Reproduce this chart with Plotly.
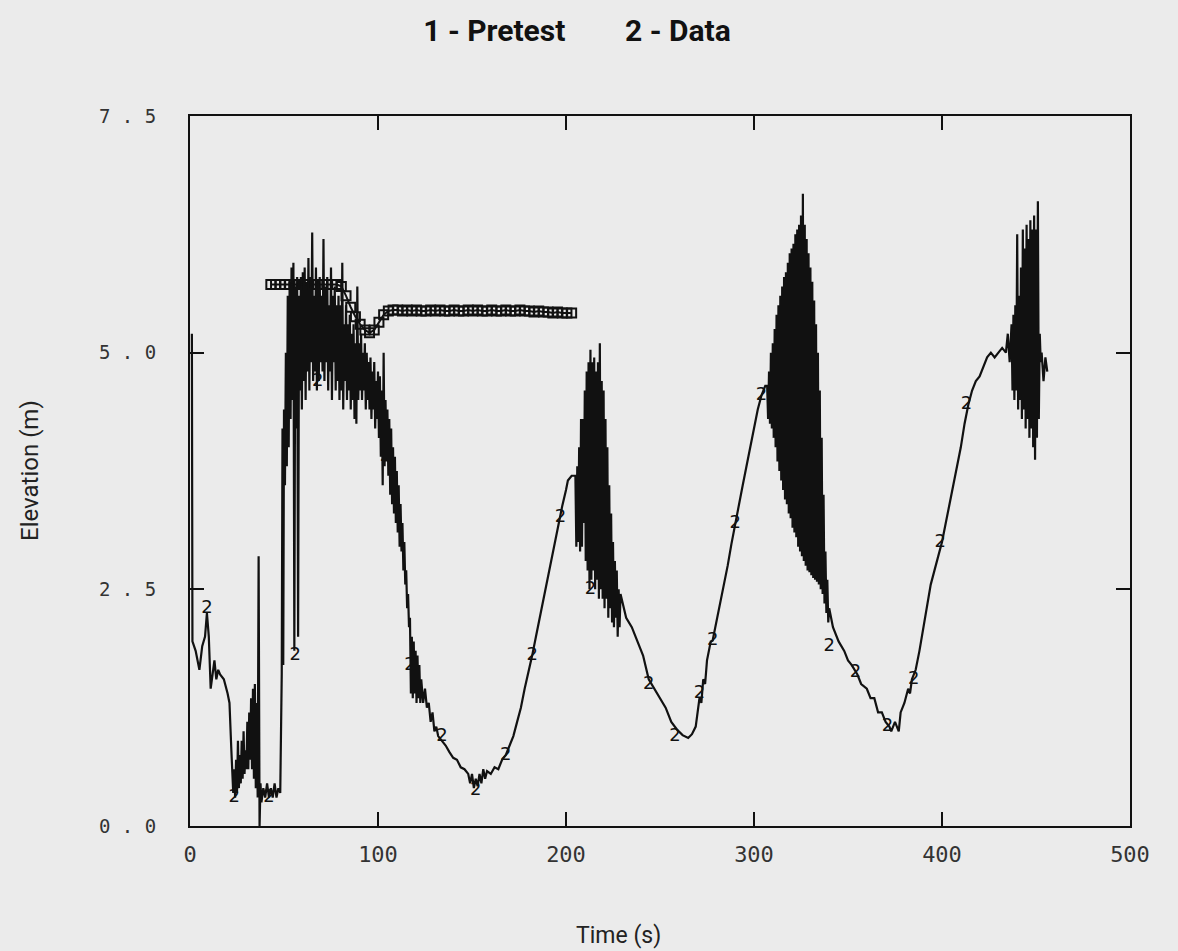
import plotly.graph_objects as go

# ---------------- data ----------------
# Series 2 - Data : time (s)
data_t = [
    1.0, 1.3, 3, 5, 6.5, 8, 9, 10, 11, 12, 13, 14, 15, 16, 18, 20, 21, 22, 23,
    23.5, 24, 24.5, 25, 25.5, 26, 26.5, 27, 27.5, 28, 28.5, 29, 29.5, 30, 30.5,
    31, 31.5, 32, 32.5, 33, 33.5, 34, 34.5, 35, 35.5, 36, 36.5, 37, 37.5, 38,
    39, 40, 41, 42, 43, 44, 45, 46, 47, 48, 48.8, 49.2, 49.6, 50, 50.5, 51,
    51.5, 52, 52.5, 53, 53.5, 54, 54.5, 55, 55.5, 56, 56.5, 57, 57.5, 58, 58.5,
    59, 59.5, 60, 60.5, 61, 61.5, 62, 62.5, 63, 63.5, 64, 64.5, 65, 65.5, 66,
    66.5, 67, 67.5, 68, 68.5, 69, 69.5, 70, 70.5, 71, 71.5, 72, 72.5, 73, 73.5,
    74, 74.5, 75, 75.5, 76, 76.5, 77, 77.5, 78, 78.5, 79, 79.5, 80, 80.5, 81,
    81.5, 82, 82.5, 83, 83.5, 84, 84.5, 85, 85.5, 86, 86.5, 87, 87.5, 88, 88.5,
    89, 89.5, 90, 90.5, 91, 91.5, 92, 92.5, 93, 93.5, 94, 94.5, 95, 95.5, 96,
    96.5, 97, 97.5, 98, 98.5, 99, 99.5, 100, 100.5, 101, 101.5, 102, 102.5, 103,
    103.5, 104, 104.5, 105, 105.5, 106, 106.5, 107, 107.5, 108, 108.5, 109,
    109.5, 110, 110.5, 111, 111.5, 112, 112.5, 113, 113.5, 114, 114.5, 115,
    115.5, 116, 116.5, 117, 117.5, 118, 118.5, 119, 119.5, 120, 120.5, 121,
    121.5, 122, 122.5, 123, 124, 125, 126, 127, 128, 129, 130, 131, 132, 134,
    136, 138, 140, 142, 144, 146, 148, 149, 150, 151, 152, 153, 154, 155, 156,
    157, 158, 160, 162, 164, 166, 168, 170, 172, 174, 176, 178, 180, 182, 184,
    186, 188, 190, 192, 194, 196, 198, 200, 201, 203, 205, 205.5, 206, 206.5,
    207, 207.5, 208, 208.5, 209, 209.5, 210, 210.5, 211, 211.5, 212, 212.5, 213,
    213.5, 214, 214.5, 215, 215.5, 216, 216.5, 217, 217.5, 218, 218.5, 219,
    219.5, 220, 220.5, 221, 221.5, 222, 222.5, 223, 223.5, 224, 224.5, 225,
    225.5, 226, 226.5, 227, 227.5, 228, 228.5, 229, 232, 235, 238, 241, 244,
    247, 250, 253, 256, 259, 262, 265, 267, 269, 271, 272, 273, 274, 275, 276,
    277, 278, 280, 282, 284, 286, 288, 290, 292, 294, 296, 298, 300, 302, 304,
    306, 307, 307.5, 308, 308.5, 309, 309.5, 310, 310.5, 311, 311.5, 312, 312.5,
    313, 313.5, 314, 314.5, 315, 315.5, 316, 316.5, 317, 317.5, 318, 318.5, 319,
    319.5, 320, 320.5, 321, 321.5, 322, 322.5, 323, 323.5, 324, 324.5, 325,
    325.5, 326, 326.5, 327, 327.5, 328, 328.5, 329, 329.5, 330, 330.5, 331,
    331.5, 332, 332.5, 333, 333.5, 334, 334.5, 335, 335.5, 336, 336.5, 337,
    337.5, 338, 338.5, 339, 339.5, 340, 342, 345, 348, 350, 352, 355, 357, 360,
    362, 364, 366, 368, 370, 372, 373, 375, 377, 378, 380, 382, 383, 384, 386,
    388, 390, 392, 394, 396, 398, 400, 402, 404, 406, 408, 410, 412, 414, 416,
    418, 420, 422, 424, 426, 428, 430, 432, 434, 435, 436, 437, 437.5, 438,
    438.5, 439, 439.5, 440, 440.5, 441, 441.5, 442, 442.5, 443, 443.5, 444,
    444.5, 445, 445.5, 446, 446.5, 447, 447.5, 448, 448.5, 449, 449.5, 450,
    450.5, 451, 451.5, 452, 452.5, 453, 454, 455, 456,
]
# Series 2 - Data : elevation (m)
data_y = [
    5.2, 1.95, 1.85, 1.65, 1.9, 2.0, 2.25, 2.0, 1.45, 1.6, 1.75, 1.55, 1.65,
    1.6, 1.55, 1.4, 1.3, 0.8, 0.35, 0.6, 0.3, 0.7, 0.35, 0.9, 0.4, 0.75, 0.45,
    0.9, 0.5, 1.0, 0.55, 0.8, 0.6, 1.1, 0.6, 1.2, 0.7, 1.35, 0.6, 1.45, 0.5,
    1.5, 0.4, 1.3, 0.3, 2.85, 0.0, 0.45, 0.25, 0.4, 0.3, 0.45, 0.3, 0.4, 0.3,
    0.45, 0.3, 0.4, 0.35, 1.6, 4.2, 1.7, 4.4, 3.6, 5.0, 3.8, 5.6, 4.0, 5.75,
    4.3, 5.9, 4.5, 5.95, 1.85, 5.7, 4.2, 5.8, 2.0, 5.6, 4.6, 5.8, 4.4, 5.85,
    4.7, 5.9, 4.5, 5.75, 4.8, 6.0, 4.6, 5.8, 4.9, 6.27, 4.7, 5.6, 4.8, 5.9,
    4.6, 5.7, 4.7, 5.8, 4.9, 5.6, 4.8, 6.2, 4.7, 5.7, 4.9, 5.8, 4.6, 5.5, 4.8,
    5.9, 4.5, 5.6, 4.9, 5.7, 4.6, 5.5, 4.7, 5.6, 4.5, 5.5, 4.6, 5.95, 4.4, 5.3,
    4.7, 5.5, 4.5, 5.3, 4.6, 5.4, 4.4, 5.2, 4.5, 5.3, 4.3, 5.1, 4.25, 5.7, 4.5,
    5.1, 4.6, 5.2, 4.5, 5.0, 4.6, 5.1, 4.4, 5.0, 4.5, 4.9, 4.4, 4.95, 4.3, 4.8,
    4.4, 4.9, 4.2, 4.7, 4.3, 4.8, 4.1, 4.75, 3.9, 4.6, 3.6, 5.0, 3.8, 4.5,
    3.85, 4.4, 3.7, 4.3, 3.5, 4.2, 3.4, 4.0, 3.3, 3.9, 3.2, 3.75, 3.1, 3.6,
    2.95, 3.4, 2.9, 3.2, 2.7, 3.0, 2.55, 2.7, 2.3, 2.45, 2.1, 2.2, 1.4, 2.0,
    1.35, 1.95, 1.4, 1.85, 1.3, 1.8, 1.35, 1.7, 1.3, 1.55, 1.3, 1.45, 1.25,
    1.3, 1.1, 1.2, 1.0, 1.05, 0.95, 0.9, 0.85, 0.78, 0.72, 0.7, 0.62, 0.6,
    0.55, 0.45, 0.55, 0.4, 0.5, 0.42, 0.55, 0.45, 0.6, 0.5, 0.58, 0.55, 0.62,
    0.6, 0.7, 0.75, 0.85, 0.95, 1.1, 1.25, 1.45, 1.62, 1.8, 2.0, 2.2, 2.4, 2.6,
    2.8, 3.0, 3.2, 3.38, 3.55, 3.65, 3.7, 3.7, 2.95, 3.8, 3.0, 4.0, 2.9, 4.3,
    2.95, 4.3, 3.2, 4.6, 2.8, 4.8, 2.7, 4.9, 2.5, 5.03, 2.6, 4.9, 2.7, 4.95,
    2.5, 4.8, 2.6, 4.9, 2.4, 5.1, 2.5, 4.7, 2.4, 4.6, 2.3, 4.3, 2.4, 4.0, 2.2,
    3.6, 2.3, 3.3, 2.15, 3.0, 2.1, 2.8, 2.2, 2.7, 2.0, 2.5, 2.1, 2.45, 2.2,
    2.1, 1.95, 1.8, 1.55, 1.45, 1.35, 1.25, 1.1, 1.02, 0.96, 0.93, 0.97, 1.05,
    1.35, 1.3, 1.55, 1.5, 1.75, 1.85, 1.95, 1.96, 2.15, 2.35, 2.55, 2.75, 2.98,
    3.2, 3.4, 3.6, 3.8, 4.0, 4.2, 4.4, 4.55, 4.65, 4.65, 4.3, 4.8, 4.25, 5.0,
    4.2, 5.1, 4.1, 5.25, 4.0, 5.4, 3.85, 5.5, 3.75, 5.6, 3.65, 5.7, 3.55, 5.8,
    3.45, 5.85, 3.4, 5.95, 3.3, 6.05, 3.25, 6.1, 3.15, 6.15, 3.1, 6.25, 3.05,
    6.3, 2.95, 6.35, 2.9, 6.45, 2.85, 6.68, 2.8, 6.35, 2.75, 6.2, 2.7, 6.05,
    2.68, 5.9, 2.65, 5.75, 2.62, 5.55, 2.6, 5.3, 2.58, 5.0, 2.55, 4.6, 2.5,
    4.1, 2.45, 3.5, 2.35, 2.9, 2.25, 2.6, 2.15, 2.3, 2.1, 1.95, 1.85, 1.75,
    1.7, 1.6, 1.5, 1.45, 1.35, 1.35, 1.2, 1.2, 1.1, 1.05, 1.0, 1.1, 1.0, 1.2,
    1.3, 1.45, 1.4, 1.55, 1.65, 1.85, 2.1, 2.35, 2.55, 2.7, 2.85, 3.0, 3.2,
    3.4, 3.6, 3.8, 4.0, 4.25, 4.45, 4.6, 4.7, 4.75, 4.85, 4.95, 5.0, 4.95,
    5.0, 5.05, 5.0, 5.2, 4.9, 5.3, 4.6, 5.4, 4.5, 5.5, 4.6, 6.25, 4.4, 5.6,
    4.5, 5.9, 4.3, 6.3, 4.4, 6.1, 4.2, 6.35, 4.3, 6.2, 4.1, 6.4, 4.2, 6.3, 4.0,
    6.45, 3.87, 6.3, 4.1, 6.6, 4.3, 5.2, 4.9, 5.0, 4.7, 4.95, 4.8,
]

# Series 1 - Pretest
pre_t = [43, 45.5, 48, 50.5, 53, 55.5, 58, 60.5, 63, 65.5, 68, 70.5, 73, 75.5,
         78, 80.5, 83, 85.5, 88, 90.5, 93, 95.5, 98, 100.5, 103, 105.5, 108,
         110.5, 113, 115.5, 118, 120.5, 123, 125.5, 128, 130.5, 133, 135.5, 138,
         140.5, 143, 145.5, 148, 150.5, 153, 155.5, 158, 160.5, 163, 165.5, 168,
         170.5, 173, 175.5, 178, 180.5, 183, 185.5, 188, 190.5, 193, 195.5, 198,
         200.5, 203]
pre_y = [5.72, 5.72, 5.72, 5.72, 5.72, 5.72, 5.72, 5.72, 5.72, 5.72, 5.72, 5.72,
         5.72, 5.72, 5.72, 5.70, 5.6, 5.48, 5.38, 5.3, 5.24, 5.21, 5.24, 5.32,
         5.4, 5.44, 5.45, 5.45, 5.44, 5.45, 5.44, 5.45, 5.44, 5.44, 5.45, 5.44,
         5.45, 5.44, 5.44, 5.45, 5.44, 5.44, 5.45, 5.44, 5.45, 5.44, 5.44, 5.45,
         5.44, 5.44, 5.45, 5.44, 5.44, 5.45, 5.44, 5.44, 5.43, 5.44, 5.43, 5.43,
         5.42, 5.43, 5.42, 5.42, 5.42]

# "2" symbols drawn along the data curve
lab2_t = [9, 23.5, 42, 56, 68, 104, 117, 134, 152, 168, 182, 197, 213, 244,
          258, 271, 278, 290, 304, 340, 354, 371, 385, 399, 413]
lab2_y = [2.3, 0.3, 0.3, 1.8, 4.7, 3.9, 1.7, 0.95, 0.38, 0.75, 1.8, 3.26, 2.5,
          1.5, 0.95, 1.4, 1.96, 3.2, 4.55, 1.9, 1.62, 1.05, 1.55, 3.0, 4.45]

x_tickvals = [0, 100, 200, 300, 400, 500]
x_ticktext = ["0", "100", "200", "300", "400", "500"]
y_tickvals = [0, 2.5, 5.0, 7.5]
y_ticktext = ["0 . 0", "2 . 5", "5 . 0", "7 . 5"]

title_text = "1 - Pretest" + "\u00a0" * 8 + "2 - Data"
x_title = "Time (s)"
y_title = "Elevation (m)"

# ---------------- figure ----------------
INK = "#111111"
BG = "#ebebeb"
LABEL_FONT = "Roboto"

fig = go.Figure()
fig.add_trace(go.Scatter(
    x=data_t, y=data_y, mode="lines",
    line=dict(color=INK, width=2.2), showlegend=False, hoverinfo="skip"))
fig.add_trace(go.Scatter(
    x=lab2_t, y=lab2_y, mode="text", text=["2"] * len(lab2_t),
    textfont=dict(family="DejaVu Sans", size=18, color=INK),
    showlegend=False, hoverinfo="skip"))
fig.add_trace(go.Scatter(
    x=pre_t, y=pre_y, mode="lines+markers",
    line=dict(color=INK, width=2),
    marker=dict(symbol="square-open", size=9, color=INK,
                line=dict(color=INK, width=2)),
    showlegend=False, hoverinfo="skip"))

axis_common = dict(
    showline=True, linecolor=INK, linewidth=2, mirror="ticks",
    ticks="inside", ticklen=14, tickwidth=2, tickcolor=INK,
    showgrid=False, zeroline=False,
)

fig.update_layout(
    width=1178, height=951,
    paper_bgcolor=BG, plot_bgcolor=BG,
    margin=dict(l=190, r=48, t=116, b=125),
    xaxis=dict(range=[0, 500], tickvals=x_tickvals, ticktext=x_ticktext,
               ticklabelstandoff=8,
               tickfont=dict(family="DejaVu Sans Mono", size=22, color="#333333"),
               **axis_common),
    yaxis=dict(range=[0, 7.5], tickvals=y_tickvals, ticktext=y_ticktext,
               ticklabelstandoff=28,
               tickfont=dict(family="DejaVu Sans Mono", size=19, color="#333333"),
               **axis_common),
    title=dict(text="<b>" + title_text + "</b>", x=577 / 1178, y=1 - 30 / 951,
               xanchor="center", yanchor="middle", xref="container",
               yref="container",
               font=dict(family=LABEL_FONT, size=30, color="#111111")),
    annotations=[
        dict(text=x_title, x=(618 - 190) / 940, y=(826 - 935) / 710,
             xref="paper", yref="paper", showarrow=False,
             xanchor="center", yanchor="middle",
             font=dict(family=LABEL_FONT, size=23, color="#222222")),
        dict(text=y_title, x=(30 - 190) / 940, y=0.5, textangle=-90,
             xref="paper", yref="paper", showarrow=False,
             xanchor="center", yanchor="middle",
             font=dict(family=LABEL_FONT, size=24, color="#222222")),
    ],
)

fig.write_html(
    "out.html",
    config={"displayModeBar": False},
    post_script="document.body.style.margin='0';document.body.style.overflow='hidden';",
)
